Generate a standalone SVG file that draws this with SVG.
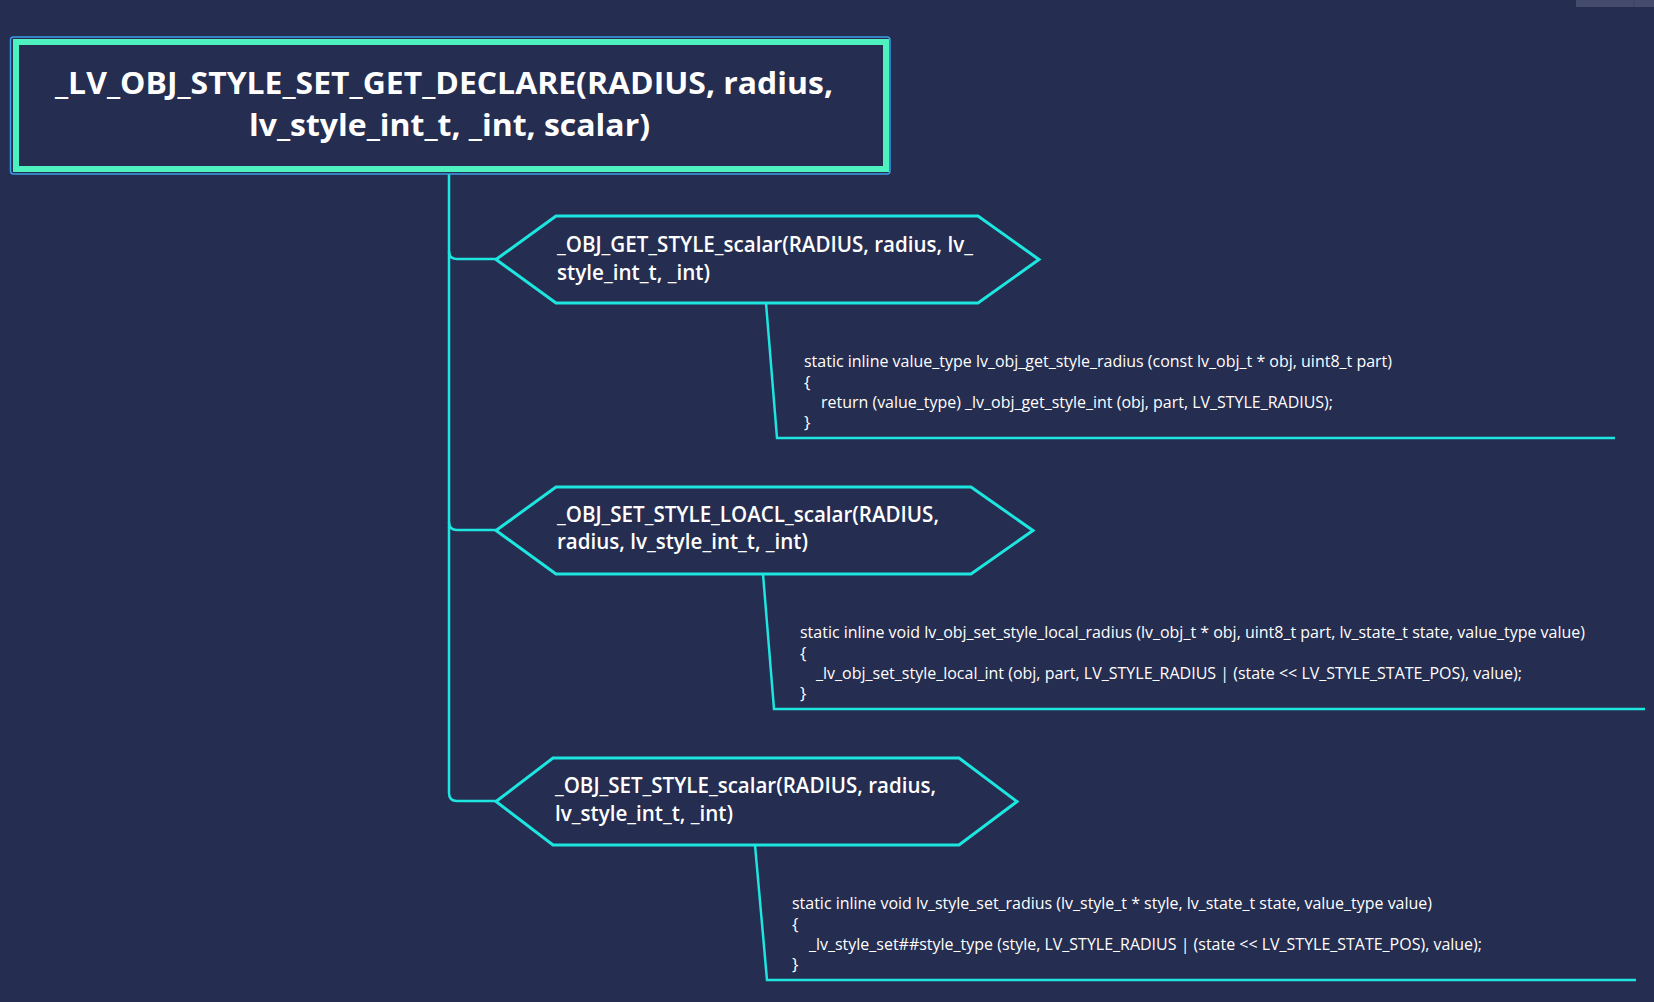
<svg xmlns="http://www.w3.org/2000/svg" width="1654" height="1002" viewBox="0 0 1654 1002">
<style>
.bg{fill:#252d50}
.hex{fill:#252d50;stroke:#1de6e0;stroke-width:3;stroke-linejoin:miter}
.conn{fill:none;stroke:#1de6e0;stroke-width:2.5}
.root-t{font-family:"Open Sans","Noto Sans",sans-serif;font-weight:700;font-size:31px;fill:#ffffff}
.hex-t{font-family:"Open Sans","Noto Sans",sans-serif;font-weight:600;font-size:21px;fill:#ffffff}
.code-t{font-family:"Open Sans","Noto Sans",sans-serif;font-weight:400;font-size:17px;fill:#ffffff}
</style>
<rect class="bg" x="0" y="0" width="1654" height="1002"/>
<rect x="1576" y="0" width="78" height="7" fill="#454b6c"/>
<line x1="1634" y1="0" x2="1634" y2="7" stroke="#3a4062" stroke-width="1"/>

<g id="connectors">
  <path class="conn" d="M449,174 V251 Q449,259 457,259 H496"/>
  <path class="conn" d="M449,251 V522 Q449,530 457,530 H496"/>
  <path class="conn" d="M449,522 V793 Q449,801 457,801 H496"/>
  <path class="conn" d="M766,303 L777,438 H1615"/>
  <path class="conn" d="M763,574 L774,709 H1645"/>
  <path class="conn" d="M755,845 L767,980 H1636"/>
</g>

<g id="root">
  <rect x="10.5" y="37" width="879.5" height="137" rx="3" fill="none" stroke="#3a9ee6" stroke-width="1.5"/>
  <rect x="16" y="42" width="870" height="127" fill="#252d50" stroke="#4df2be" stroke-width="6"/>
  <text class="root-t" x="55" y="94" textLength="778" lengthAdjust="spacingAndGlyphs">_LV_OBJ_STYLE_SET_GET_DECLARE(RADIUS, radius,</text>
  <text class="root-t" x="249" y="136" textLength="401" lengthAdjust="spacingAndGlyphs">lv_style_int_t, _int, scalar)</text>
</g>

<g id="node-get">
  <polygon class="hex" points="496,259.5 556,216 978,216 1039,259.5 978,303 556,303"/>
  <text class="hex-t" x="557" y="252" textLength="416" lengthAdjust="spacingAndGlyphs">_OBJ_GET_STYLE_scalar(RADIUS, radius, lv_</text>
  <text class="hex-t" x="557" y="280" textLength="153" lengthAdjust="spacingAndGlyphs">style_int_t, _int)</text>
</g>
<g id="code-get">
  <text class="code-t" x="804" y="367" textLength="588" lengthAdjust="spacingAndGlyphs">static inline value_type lv_obj_get_style_radius (const lv_obj_t * obj, uint8_t part)</text>
  <text class="code-t" x="804" y="388">{</text>
  <text class="code-t" x="821" y="408" textLength="512" lengthAdjust="spacingAndGlyphs">return (value_type) _lv_obj_get_style_int (obj, part, LV_STYLE_RADIUS);</text>
  <text class="code-t" x="804" y="428">}</text>
</g>

<g id="node-set-local">
  <polygon class="hex" points="496,530.5 556,487 971,487 1033,530.5 971,574 556,574"/>
  <text class="hex-t" x="557" y="522" textLength="382" lengthAdjust="spacingAndGlyphs">_OBJ_SET_STYLE_LOACL_scalar(RADIUS,</text>
  <text class="hex-t" x="557" y="549" textLength="251" lengthAdjust="spacingAndGlyphs">radius, lv_style_int_t, _int)</text>
</g>
<g id="code-set-local">
  <text class="code-t" x="800" y="638" textLength="785" lengthAdjust="spacingAndGlyphs">static inline void lv_obj_set_style_local_radius (lv_obj_t * obj, uint8_t part, lv_state_t state, value_type value)</text>
  <text class="code-t" x="800" y="659">{</text>
  <text class="code-t" x="816" y="679" textLength="706" lengthAdjust="spacingAndGlyphs">_lv_obj_set_style_local_int (obj, part, LV_STYLE_RADIUS | (state &lt;&lt; LV_STYLE_STATE_POS), value);</text>
  <text class="code-t" x="800" y="699">}</text>
</g>

<g id="node-set">
  <polygon class="hex" points="496,801.5 553,758 959,758 1017,801.5 959,845 553,845"/>
  <text class="hex-t" x="555" y="793" textLength="381" lengthAdjust="spacingAndGlyphs">_OBJ_SET_STYLE_scalar(RADIUS, radius,</text>
  <text class="hex-t" x="555" y="821" textLength="178" lengthAdjust="spacingAndGlyphs">lv_style_int_t, _int)</text>
</g>
<g id="code-set">
  <text class="code-t" x="792" y="909" textLength="640" lengthAdjust="spacingAndGlyphs">static inline void lv_style_set_radius (lv_style_t * style, lv_state_t state, value_type value)</text>
  <text class="code-t" x="792" y="930">{</text>
  <text class="code-t" x="809" y="950" textLength="673" lengthAdjust="spacingAndGlyphs">_lv_style_set##style_type (style, LV_STYLE_RADIUS | (state &lt;&lt; LV_STYLE_STATE_POS), value);</text>
  <text class="code-t" x="792" y="970">}</text>
</g>
</svg>
